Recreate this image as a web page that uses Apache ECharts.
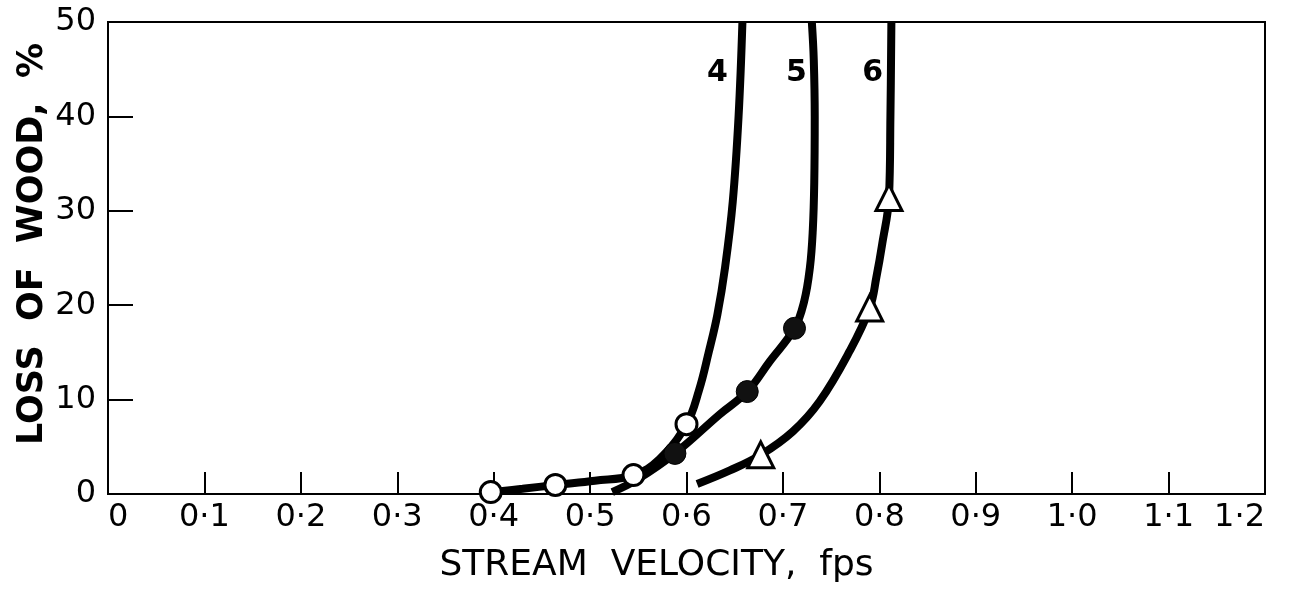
<!DOCTYPE html>
<html>
<head>
<meta charset="utf-8">
<script src="https://cdn.jsdelivr.net/npm/echarts@6/dist/echarts.min.js"></script>
<style>
  html, body { margin: 0; padding: 0; background: #fff; }
  #chart { width: 1303px; height: 590px; }
</style>
</head>
<body>
<div id="chart"></div>
<script>
  // curves (velocity fps, loss %)
  const curve4X = [0.397, 0.43, 0.464, 0.505, 0.545, 0.572, 0.600, 0.613, 0.623, 0.632, 0.640, 0.648, 0.654, 0.658];
  const curve4Y = [0.2, 0.55, 0.96, 1.4, 2.0, 3.7, 7.4, 11, 15, 19, 24, 31, 40, 50];
  const curve5X = [0.523, 0.55, 0.588, 0.634, 0.663, 0.686, 0.712, 0.722, 0.728, 0.731, 0.7325, 0.733, 0.732, 0.730];
  const curve5Y = [0.2, 1.6, 4.3, 8.4, 10.85, 14.0, 17.55, 20.4, 24, 28, 33, 40, 46, 50];
  const curve6X = [0.611, 0.645, 0.677, 0.710, 0.738, 0.769, 0.790, 0.797, 0.803, 0.810, 0.8115, 0.8125];
  const curve6Y = [1.06, 2.5, 4.15, 6.6, 9.8, 15.1, 19.7, 23, 26.5, 31.4, 40, 50];

  // measured points
  const openCircles = [[0.397, 0.2], [0.464, 0.96], [0.545, 2.0], [0.600, 7.4]];
  const filledCircles = [[0.588, 4.3], [0.663, 10.85], [0.712, 17.55]];
  const triangles = [[0.677, 4.15], [0.790, 19.7], [0.810, 31.4]];

  // curve numbers
  const curveNames = ['4', '5', '6'];
  const curveNameX = [0.632, 0.714, 0.793];
  const curveNameY = 44.6;

  const zip = (xs, ys) => xs.map((x, i) => [x, ys[i]]);
  const font = 'DejaVu Sans';

  const curveSeries = [[curve4X, curve4Y], [curve5X, curve5Y], [curve6X, curve6Y]].map(c => ({
    type: 'line',
    data: zip(c[0], c[1]),
    smooth: 0.4,
    showSymbol: false,
    lineStyle: { color: '#000', width: 8 },
    z: 2
  }));

  const chart = echarts.init(document.getElementById('chart'));
  chart.setOption({
    animation: false,
    grid: { left: 108, right: 38, top: 22, bottom: 96, show: true, borderColor: '#000', borderWidth: 2 },
    xAxis: {
      type: 'value', min: 0, max: 1.2, interval: 0.1,
      name: 'STREAM  VELOCITY,  fps', nameLocation: 'middle', nameGap: 54,
      nameTextStyle: { fontFamily: font, fontSize: 36, color: '#000', padding: [0, 60, 0, 0] },
      axisLine: { lineStyle: { color: '#000', width: 2 } },
      axisTick: { inside: true, length: 22, lineStyle: { color: '#000', width: 2 } },
      splitLine: { show: false },
      axisLabel: {
        margin: 8, fontFamily: font, fontSize: 32, color: '#000',
        formatter: v => v === 0 ? '0' : v.toFixed(1).replace('.', '·'),
        alignMinLabel: 'left', alignMaxLabel: 'right'
      }
    },
    yAxis: {
      type: 'value', min: 0, max: 50, interval: 10,
      name: 'LOSS  OF  WOOD,  %', nameLocation: 'middle', nameGap: 58, nameRotate: 90,
      nameMoveOverlap: false,
      nameTextStyle: { fontFamily: font, fontSize: 35, fontWeight: 'bold', color: '#000', padding: [0, 0, 0, 28] },
      axisLine: { lineStyle: { color: '#000', width: 2 } },
      axisTick: { inside: true, length: 25, lineStyle: { color: '#000', width: 2 } },
      splitLine: { show: false },
      axisLabel: { margin: 12, fontFamily: font, fontSize: 32, color: '#000' }
    },
    series: curveSeries.concat([
      {
        type: 'scatter', data: openCircles, symbol: 'circle', symbolSize: 21,
        itemStyle: { color: '#fff', borderColor: '#000', borderWidth: 3, opacity: 1 }, z: 3
      },
      {
        type: 'scatter', data: filledCircles, symbol: 'circle', symbolSize: 22,
        itemStyle: { color: '#111', borderColor: '#000', borderWidth: 1, opacity: 1 }, z: 3
      },
      {
        type: 'scatter', data: triangles, symbol: 'triangle', symbolSize: 26,
        itemStyle: { color: '#fff', borderColor: '#000', borderWidth: 3, opacity: 1 }, z: 3
      },
      {
        type: 'scatter', symbolSize: 1,
        itemStyle: { opacity: 0 },
        data: curveNames.map((n, i) => ({ name: n, value: [curveNameX[i], curveNameY] })),
        label: {
          show: true, formatter: '{b}', position: 'inside',
          fontFamily: font, fontSize: 30, fontWeight: 'bold', color: '#000', opacity: 1
        },
        z: 4
      }
    ])
  });
</script>
</body>
</html>
